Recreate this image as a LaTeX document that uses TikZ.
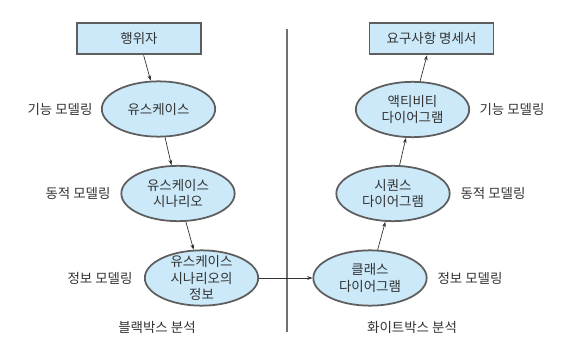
\documentclass[tikz,border=0pt]{standalone}
\usepackage{fontspec}
\setmainfont{Noto Sans CJK KR}
\usetikzlibrary{arrows.meta, shapes.geometric}
\definecolor{PaleBlue}{HTML}{CBE9F9}
\definecolor{EdgeGray}{HTML}{5E5E5E}
\definecolor{InkGray}{HTML}{333333}
\definecolor{RuleGray}{HTML}{707070}

\begin{document}
\begin{tikzpicture}[x=0.03cm, y=-0.03cm, font=\fontsize{11.5}{14.3}\selectfont, text=InkGray,
    docbox/.style={draw=EdgeGray, line width=1.6pt, fill=PaleBlue,
                   minimum width=3.72cm, minimum height=0.95cm, inner sep=0pt},
    usecase/.style={ellipse, draw=EdgeGray, line width=1.5pt, fill=PaleBlue, align=center,
                    minimum width=3.4cm, minimum height=1.66cm, inner sep=0pt},
    flow/.style={draw=InkGray, line width=0.6pt, -{Stealth[length=4.5pt, width=3.2pt]}}]

\useasboundingbox (0,0) rectangle (567,348);

% left: black box
\node[docbox] (actor) at (139,38.5) {행위자};
\node[usecase] (uc) at (158.5,109) {유스케이스};
\node[usecase] (scen) at (178,193.5) {유스케이스\\시나리오};
\node[usecase, inner ysep=-4pt] (scinfo) at (201.5,278) {유스케이스\\시나리오의\\정보};

\node (lfunc) at (60,109) {기능 모델링};
\node (ldyn) at (78,193) {동적 모델링};
\node (linfo) at (100,278) {정보 모델링};
\node (black) at (157,327) {블랙박스 분석};

% right: white box
\node[docbox] (spec) at (431.5,38.5) {요구사항 명세서};
\node[usecase] (act) at (412.5,109.5) {액티비티\\다이어그램};
\node[usecase] (seq) at (393,193.5) {시퀀스\\다이어그램};
\node[usecase] (cls) at (370,278) {클래스\\다이어그램};

\node (rfunc) at (512,109) {기능 모델링};
\node (rdyn) at (493,193) {동적 모델링};
\node (rinfo) at (470,278) {정보 모델링};
\node (white) at (412,327) {화이트박스 분석};

% divider
\coordinate (divtop) at (287,29);
\coordinate (divbot) at (287,332);
\draw[RuleGray, line width=1.6pt] (divtop) -- (divbot);

\draw[flow] (actor) -- (uc);
\draw[flow] (uc) -- (scen);
\draw[flow] (scen) -- (scinfo);
\draw[flow] (scinfo) -- (cls);
\draw[flow] (cls) -- (seq);
\draw[flow] (seq) -- (act);
\draw[flow] (act) -- (spec);

\end{tikzpicture}
\end{document}
